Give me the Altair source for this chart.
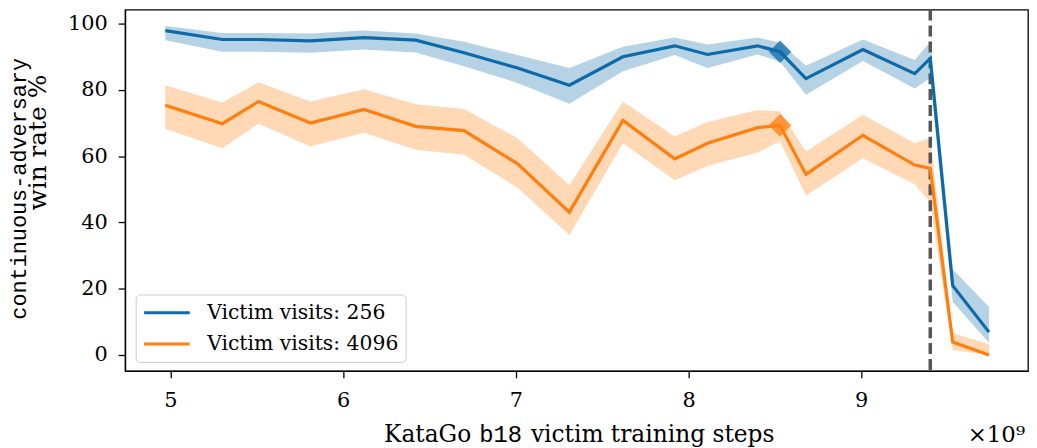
import altair as alt
import pandas as pd

# ---- data (x in units of 1e9 training steps) ----
steps = [4.97, 5.30, 5.51, 5.81, 6.12, 6.42, 6.70, 7.01, 7.31, 7.62,
         7.92, 8.11, 8.40, 8.53, 8.68, 9.01, 9.31, 9.40, 9.53, 9.74]
series_names = ["Victim visits: 256", "Victim visits: 4096"]

rate_256 = [97.9, 95.2, 95.2, 94.8, 95.8, 95.0, 91.2, 86.6, 81.4, 90.0,
            93.3, 90.7, 93.3, 91.5, 83.4, 92.2, 84.9, 89.5, 20.9, 6.9]
hi_256 = [99.3, 97.2, 97.2, 97.0, 97.9, 97.0, 94.5, 90.5, 86.6, 93.0,
          95.8, 93.7, 95.8, 94.2, 87.3, 95.2, 89.0, 94.5, 25.9, 14.5]
lo_256 = [95.0, 91.5, 91.5, 91.2, 92.2, 91.3, 87.1, 82.1, 75.8, 85.6,
          90.5, 86.6, 90.7, 88.5, 78.5, 88.7, 80.4, 83.6, 16.0, 3.7]

rate_4096 = [75.4, 69.8, 76.5, 70.0, 74.1, 69.0, 67.7, 57.7, 43.1, 70.8,
             59.2, 63.9, 68.6, 69.3, 54.5, 66.3, 57.3, 56.3, 3.9, 0.0]
hi_4096 = [81.3, 76.2, 82.3, 76.5, 80.2, 75.7, 74.2, 65.4, 51.2, 76.5,
           65.9, 70.3, 73.9, 73.5, 61.4, 72.5, 63.9, 65.4, 6.6, 3.2]
lo_4096 = [68.3, 62.4, 69.8, 62.9, 67.1, 61.9, 60.4, 50.5, 36.2, 63.9,
           52.7, 57.0, 61.1, 64.5, 48.1, 59.4, 51.5, 46.1, 1.5, 0.0]

marker_step = 8.53
cutoff_step = 9.40
colors = ["#0c6aa8", "#ff7f0e"]
x_ticks = [5, 6, 7, 8, 9]
y_ticks = [0, 20, 40, 60, 80, 100]

x_title_parts = ["KataGo", "b18", "victim training steps"]
y_title_lines = ["continuous-adversary", "win rate %"]
x_multiplier = "×10⁹"

SERIF = "DejaVu Serif"
MONO = "Liberation Mono"

rows = []
for name, r, lo, hi in [(series_names[0], rate_256, lo_256, hi_256),
                        (series_names[1], rate_4096, lo_4096, hi_4096)]:
    for s, v, l, h in zip(steps, r, lo, hi):
        rows.append({"step": s, "series": name, "rate": v, "lo": l, "hi": h})
df = pd.DataFrame(rows)

W, H = 910, 364
xscale = alt.Scale(domain=[4.737, 9.966], nice=False, zero=False)
yscale = alt.Scale(domain=[-4.8, 104.2], nice=False, zero=False)
xax = alt.Axis(values=x_ticks, title=None, format="d", labelBaseline="alphabetic",
               labelPadding=29)
yax = alt.Axis(values=y_ticks, title=None, format="d", labelPadding=11)
X = alt.X("step:Q", scale=xscale, axis=xax)

base = alt.Chart(df)

band_layers = []
marker_layers = []
for name, col in zip(series_names, colors):
    sub = base.transform_filter(alt.datum.series == name)
    band_layers.append(sub.mark_area(opacity=0.3, color=col).encode(
        x=X,
        y=alt.Y("lo:Q", scale=yscale, axis=yax),
        y2="hi:Q",
    ))
    marker_layers.append(
        sub.transform_filter(alt.datum.step == marker_step).mark_point(
            shape="diamond", filled=True, size=520, opacity=0.75, color=col
        ).encode(x=X, y=alt.Y("rate:Q", scale=yscale, axis=yax))
    )

rule = alt.Chart(pd.DataFrame({"step": [cutoff_step]})).mark_rule(
    color="#555555", strokeWidth=3.5, strokeDash=[11, 5]
).encode(x=X)

lines = base.mark_line(strokeWidth=3.2).encode(
    x=X,
    y=alt.Y("rate:Q", scale=yscale, axis=yax),
    color=alt.Color(
        "series:N", scale=alt.Scale(domain=series_names, range=colors),
        legend=alt.Legend(
            title=None, orient="none", legendX=10.7, legendY=287,
            symbolType="M-1,0L3.6,0", symbolSize=400, symbolStrokeWidth=3,
            labelFont=SERIF, labelFontSize=20.5, labelColor="black",
            labelOffset=42, rowPadding=9.5, padding=7, labelLimit=400,
            strokeColor="#cccccc", fillColor="#ffffff",
            cornerRadius=4,
        ),
    ),
)


def label(text, font, size, x, y, align="left", angle=0, baseline="alphabetic"):
    params = dict(align=align, baseline=baseline, font=font, fontSize=size,
                  color="black")
    if angle:
        params["angle"] = angle
    return alt.Chart(pd.DataFrame({"t": [text]})).mark_text(**params).encode(
        x=alt.value(x), y=alt.value(y), text="t:N"
    )


texts = [
    label(x_title_parts[0], SERIF, 23.5, 261, 436),
    label(x_title_parts[1], MONO, 24, 357, 436),
    label(x_title_parts[2], SERIF, 23.5, 409, 436),
    label(x_multiplier, SERIF, 23, 907, 436, align="right"),
    label(y_title_lines[0], MONO, 22, -100, 180.5, align="center", angle=270),
    label(y_title_lines[1], SERIF, 25, -80, 134, align="center", angle=270),
]

chart = alt.layer(*band_layers, rule, lines, *marker_layers, *texts).properties(
    width=W, height=H,
    autosize=alt.AutoSizeParams(type="none"),
    padding={"left": 118, "top": 0, "right": 1, "bottom": 76},
).configure_view(
    stroke="black", strokeWidth=1.3
).configure_axis(
    domainColor="black", domainWidth=1.3, tickColor="black", tickWidth=1.3,
    tickSize=7, labelFont=SERIF, labelFontSize=21, labelColor="black", grid=False,
)

chart.save("out.html", embed_options={"renderer": "svg", "actions": False})
